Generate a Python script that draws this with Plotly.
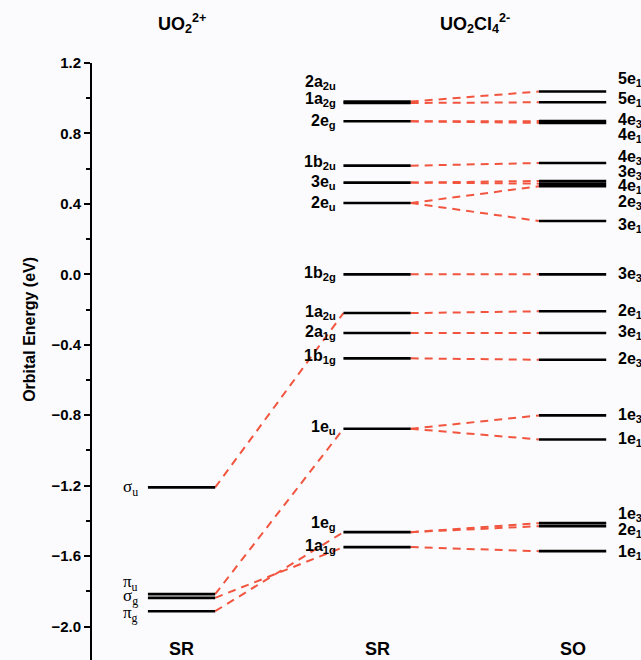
import plotly.graph_objects as go

# ---------------- data ----------------
uo2_labels = ["σ<sub>u</sub>", "π<sub>u</sub>", "σ<sub>g</sub>", "π<sub>g</sub>"]
uo2_E = [-1.21, -1.816, -1.837, -1.913]

sr_labels = ["2a<sub>2u</sub>", "1a<sub>2g</sub>", "2e<sub>g</sub>", "1b<sub>2u</sub>", "3e<sub>u</sub>",
             "2e<sub>u</sub>", "1b<sub>2g</sub>", "1a<sub>2u</sub>", "2a<sub>1g</sub>", "1b<sub>1g</sub>",
             "1e<sub>u</sub>", "1e<sub>g</sub>", "1a<sub>1g</sub>"]
sr_E = [0.981, 0.973, 0.869, 0.617, 0.521, 0.405, 0.0, -0.22, -0.333, -0.477, -0.877, -1.464, -1.549]

so_labels = ["5e<sub>1/2</sub>", "5e<sub>1/2</sub>", "4e<sub>3/2</sub>", "4e<sub>1/2</sub>", "4e<sub>3/2</sub>",
             "3e<sub>3/2</sub>", "4e<sub>1/2</sub>", "2e<sub>3/2</sub>", "3e<sub>1/2</sub>", "3e<sub>3/2</sub>",
             "2e<sub>1/2</sub>", "3e<sub>1/2</sub>", "2e<sub>3/2</sub>", "1e<sub>3/2</sub>", "1e<sub>1/2</sub>",
             "1e<sub>3/2</sub>", "2e<sub>1/2</sub>", "1e<sub>1/2</sub>"]
so_E = [1.038, 0.977, 0.870, 0.860, 0.632, 0.530, 0.515, 0.500, 0.303, 0.0, -0.21, -0.333,
        -0.485, -0.801, -0.9375, -1.413, -1.430, -1.572]

# correlations (index pairs)
uo2_to_sr = [(0, 7), (1, 10), (2, 12), (3, 11)]
sr_to_so = [(0, 0), (1, 1), (2, 2), (2, 3), (3, 4), (4, 5), (4, 6), (5, 7), (5, 8), (6, 9),
            (7, 10), (8, 11), (9, 12), (10, 13), (10, 14), (11, 15), (11, 16), (12, 17)]

column_titles = ["SR", "SR", "SO"]

# ---------------- layout constants ----------------
COLS = [0.0, 1.0, 2.0]
HW = 0.172
# label positions (energy units) to avoid overlap
uo2_lab_y = [-1.215, -1.755, -1.835, -1.93]
sr_lab_y = [1.09, 0.99, 0.87, 0.636, 0.52, 0.40, 0.005, -0.216, -0.33, -0.466, -0.87, -1.415, -1.545]
so_lab_y = [1.108, 0.994, 0.875, 0.79, 0.665, 0.58, 0.50, 0.409, 0.278, 0.0, -0.21, -0.33,
            -0.483, -0.80, -0.9375, -1.364, -1.455, -1.58]

RED = "#f2553f"
FONT = "Liberation Sans"

fig = go.Figure()

# level lines
lx, ly = [], []
for c, E in zip(COLS, [uo2_E, sr_E, so_E]):
    for e in E:
        lx += [c - HW, c + HW, None]
        ly += [e, e, None]

# dashed correlation lines
dx, dy = [], []
for a, b in uo2_to_sr:
    dx += [COLS[0] + HW, COLS[1] - HW, None]
    dy += [uo2_E[a], sr_E[b], None]
for a, b in sr_to_so:
    dx += [COLS[1] + HW, COLS[2] - HW, None]
    dy += [sr_E[a], so_E[b], None]

fig.add_trace(go.Scatter(x=dx, y=dy, mode="lines", hoverinfo="skip",
                         line=dict(color=RED, width=2, dash="8px,6px")))
fig.add_trace(go.Scatter(x=lx, y=ly, mode="lines", hoverinfo="skip",
                         line=dict(color="black", width=2.6)))

ann = []
for t, y in zip(uo2_labels, uo2_lab_y):
    ann.append(dict(x=COLS[0] - HW - 0.04, y=y, xref="x", yref="y", text=t, showarrow=False,
                    xanchor="right", yanchor="middle",
                    font=dict(family="Liberation Serif", size=17, color="black")))
for t, y in zip(sr_labels, sr_lab_y):
    ann.append(dict(x=COLS[1] - HW - 0.03, y=y, xref="x", yref="y", text=t, showarrow=False,
                    xanchor="right", yanchor="middle",
                    font=dict(family=FONT, size=16, color="black", weight="bold")))
for t, y in zip(so_labels, so_lab_y):
    ann.append(dict(x=COLS[2] + HW + 0.05, y=y, xref="x", yref="y", text=t, showarrow=False,
                    xanchor="left", yanchor="middle",
                    font=dict(family=FONT, size=16, color="black", weight="bold")))
for c, t in zip(COLS, column_titles):
    ann.append(dict(x=c, y=-2.125, xref="x", yref="y", text=t, showarrow=False,
                    xanchor="center", yanchor="middle",
                    font=dict(family=FONT, size=18, color="black", weight="bold")))
ann.append(dict(x=COLS[0], y=1 + 40 / 597, xref="x", yref="paper",
                text="UO<sub>2</sub><sup>2+</sup>", showarrow=False, xanchor="center", yanchor="middle",
                font=dict(family=FONT, size=18, color="black", weight="bold")))
ann.append(dict(x=(COLS[1] + COLS[2]) / 2, y=1 + 40 / 597, xref="x", yref="paper",
                text="UO<sub>2</sub>Cl<sub>4</sub><sup>2-</sup>", showarrow=False, xanchor="center",
                yanchor="middle", font=dict(family=FONT, size=18, color="black", weight="bold")))
ann.append(dict(x=-62 / 549, y=0.553, xref="paper", yref="paper", text="Orbital Energy (eV)",
                showarrow=False, textangle=-90, xanchor="center", yanchor="middle",
                font=dict(family=FONT, size=16, color="black", weight="bold")))

fig.update_layout(
    width=641, height=660,
    margin=dict(l=92, r=0, t=63, b=0),
    paper_bgcolor="#fbfbfd", plot_bgcolor="#fbfbfd",
    showlegend=False,
    annotations=ann,
    xaxis=dict(range=[-0.458, 2.350], visible=False, fixedrange=True),
    yaxis=dict(range=[-2.19, 1.2], showline=True, linecolor="black", linewidth=2,
               ticks="outside", ticklen=6, tickwidth=2, tickcolor="black",
               tick0=0, dtick=0.4, tickformat=".1f", showgrid=False, zeroline=False,
               tickfont=dict(family=FONT, size=15, color="black", weight="bold"),
               minor=dict(ticks="outside", ticklen=4, tickwidth=2, dtick=0.2, tick0=0,
                          tickcolor="black", showgrid=False)),
)

fig.write_html("out.html")
